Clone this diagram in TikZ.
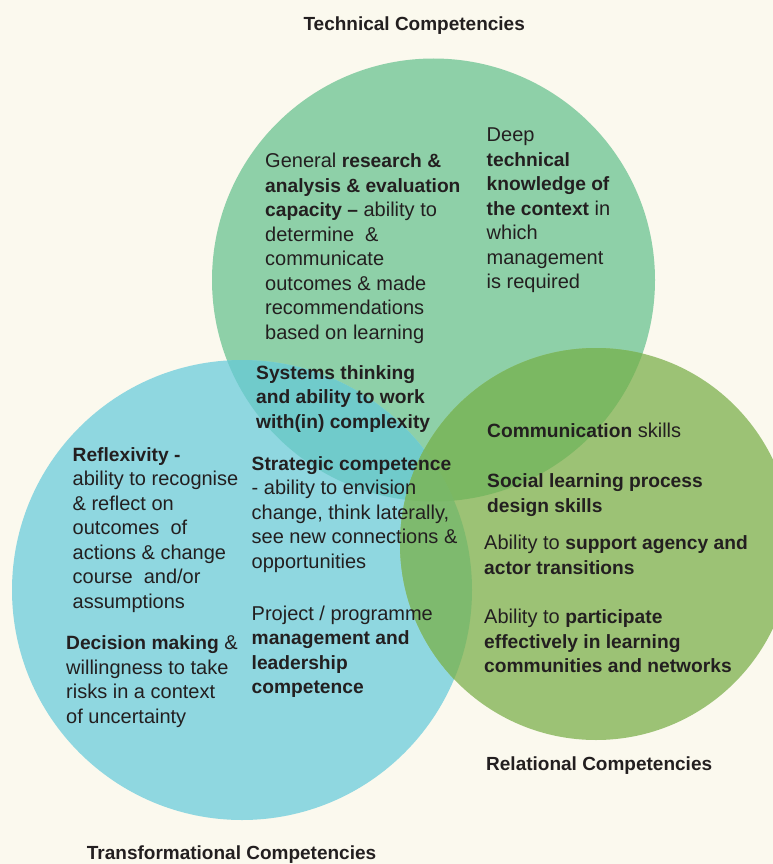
\documentclass[tikz,border=0pt]{standalone}
\usepackage{fontspec}
\setmainfont{Liberation Sans}
\definecolor{bgc}{HTML}{FBF9EE}
\definecolor{cg}{HTML}{8ED0A8}
\definecolor{cb}{HTML}{8FD7E0}
\definecolor{co}{HTML}{9CC275}
\definecolor{cgb}{HTML}{70CBCB}
\definecolor{cgo}{HTML}{7BB862}
\definecolor{cbo}{HTML}{7EBA6E}
\definecolor{cgbo}{HTML}{79B867}
\definecolor{ink}{HTML}{231F20}
\newcommand{\fs}{\rule{0pt}{16pt}}
\newcommand{\B}[1]{{\fontsize{19.2}{24.5}\selectfont\bfseries #1}}
\tikzset{
  body/.style={anchor=north west, inner sep=0pt, align=left, text=ink,
    font=\fontsize{20}{24.5}\selectfont},
  ttl/.style={anchor=base west, inner sep=0pt, text=ink,
    font=\fontsize{19}{23}\selectfont\bfseries}
}
\begin{document}
\begin{tikzpicture}[x=1pt,y=-1pt]
\useasboundingbox (0,0) rectangle (773,864);
\clip (0,0) rectangle (773,864);
\fill[bgc] (0,0) rectangle (773,864);
\coordinate (G) at (433.5,280);
\coordinate (B) at (242,590);
\coordinate (O) at (596,544);
\def\rg{221.5pt}\def\rb{230pt}\def\ro{196pt}
\fill[cg] (G) circle[radius=\rg];
\fill[cb] (B) circle[radius=\rb];
\fill[co] (O) circle[radius=\ro];
\begin{scope}
  \clip (G) circle[radius=\rg];
  \fill[cgb] (B) circle[radius=\rb];
  \fill[cgo] (O) circle[radius=\ro];
\end{scope}
\begin{scope}
  \clip (B) circle[radius=\rb];
  \fill[cbo] (O) circle[radius=\ro];
  \clip (G) circle[radius=\rg];
  \fill[cgbo] (O) circle[radius=\ro];
\end{scope}

\node[ttl] (ttech) at (303.3,30.7) {Technical Competencies};
\node[ttl] (trel) at (486,770) {Relational Competencies};
\node[ttl] (ttrans) at (86.7,859.5) {Transformational Competencies};

\node[body] (research) at (265,151.5) {\fs General \B{research \&}\\
\B{analysis \& evaluation}\\
\B{capacity –} ability to\\
determine\ \ \&\\
communicate\\
outcomes \& made\\
recommendations\\
based on learning};

\node[body] (deep) at (486.5,125.7) {\fs Deep\\
\B{technical}\\
\B{knowledge of}\\
\B{the context} in\\
which\\
management\\
is required};

\node[body] (systems) at (256,363) {\fs\B{Systems thinking}\\
\B{and ability to work}\\
\B{with(in) complexity}};

\node[body] (strategic) at (251.5,454) {\fs\B{Strategic competence}\\
- ability to envision\\
change, think laterally,\\
see new connections \&\\
opportunities};

\node[body] (reflex) at (72.5,445) {\fs\B{Reflexivity -}\\
ability to recognise\\
\& reflect on\\
outcomes\ \ of\\
actions \& change\\
course\ \ and/or\\
assumptions};

\node[body] (decision) at (66,633.3) {\fs\B{Decision making} \&\\
willingness to take\\
risks in a context\\
of uncertainty};

\node[body] (project) at (251.5,604) {\fs Project / programme\\
\B{management and}\\
\B{leadership}\\
\B{competence}};

\node[body] (comm) at (487,421.3) {\fs\B{Communication} skills};

\node[body] (social) at (487,471.3) {\fs\B{Social learning process}\\
\B{design skills}};

\node[body] (support) at (484,533.3) {\fs Ability to \B{support agency and}\\
\B{actor transitions}};

\node[body] (partic) at (484,607.3) {\fs Ability to \B{participate}\\
\B{effectively in learning}\\
\B{communities and networks}};
\end{tikzpicture}
\end{document}
